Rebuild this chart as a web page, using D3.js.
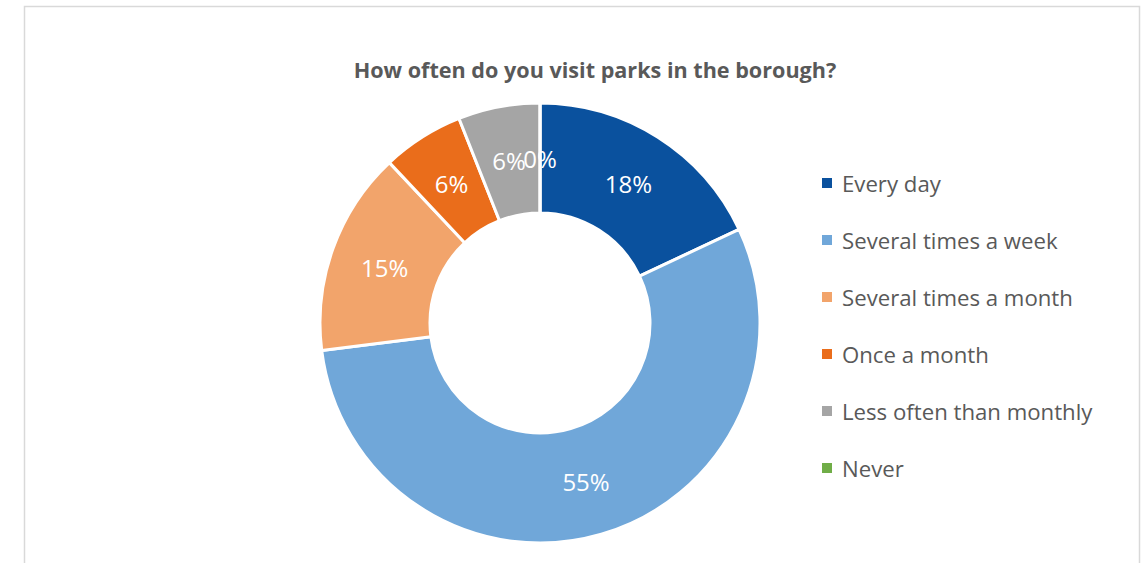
<!DOCTYPE html>
<html><head><meta charset="utf-8">
<script src="https://cdn.jsdelivr.net/npm/d3@7"></script>
<style>html,body{margin:0;padding:0;background:#fff;}svg{display:block;}</style>
</head><body>
<svg id="chart" width="1145" height="563"></svg>
<script>
const title = "How often do you visit parks in the borough?";
const categories = ["Every day", "Several times a week", "Several times a month", "Once a month", "Less often than monthly", "Never"];
const values = [18, 55, 15, 6, 6, 0];
const colors = ["#0A519E", "#70A7D9", "#F2A46B", "#EA6D1B", "#A5A5A5", "#70AD47"];

const svg = d3.select("#chart");
const font = "'Open Sans', 'Liberation Sans', sans-serif";

// frame
svg.append("rect").attr("x", 24.5).attr("y", 6.5).attr("width", 1115).attr("height", 580)
  .attr("fill", "#fff").attr("stroke", "#D9D9D9").attr("stroke-width", 1.5);

svg.append("text").attr("x", 595).attr("y", 78).attr("text-anchor", "middle")
  .attr("font-family", font).attr("font-weight", "bold").attr("font-size", 21.6)
  .attr("fill", "#595959").text(title);

const cx = 540, cy = 323, rOuter = 220, rInner = 110;
const data = categories.map((c, i) => ({ cat: c, value: values[i], color: colors[i] }));
const pie = d3.pie().value(d => d.value).sort(null);
const arcs = pie(data);
const arc = d3.arc().innerRadius(rInner).outerRadius(rOuter);
const labelArc = d3.arc().innerRadius((rInner + rOuter) / 2).outerRadius((rInner + rOuter) / 2);

const g = svg.append("g").attr("transform", `translate(${cx},${cy})`);
g.selectAll("path.slice").data(arcs).join("path").attr("class", "slice")
  .attr("d", arc).attr("fill", d => d.data.color)
  .attr("stroke", "#fff").attr("stroke-width", 3).attr("stroke-linejoin", "round");

g.selectAll("text.lbl").data(arcs).join("text").attr("class", "lbl")
  .attr("transform", d => `translate(${labelArc.centroid(d)})`)
  .attr("text-anchor", "middle").attr("dominant-baseline", "central")
  .attr("font-family", font).attr("font-size", 24).attr("fill", "#fff")
  .text(d => d3.format(".0%")(d.data.value / d3.sum(values)));

// legend
const legY = d3.scalePoint().domain(categories).range([183, 468]);
const leg = svg.append("g");
const items = leg.selectAll("g").data(data).join("g")
  .attr("transform", d => `translate(822,${legY(d.cat)})`);
items.append("rect").attr("x", 0).attr("y", -5).attr("width", 10).attr("height", 10).attr("fill", d => d.color);
items.append("text").attr("x", 20).attr("y", 0).attr("dominant-baseline", "central")
  .attr("font-family", font).attr("font-size", 22.2).attr("fill", "#595959").text(d => d.cat);
</script>
</body></html>
